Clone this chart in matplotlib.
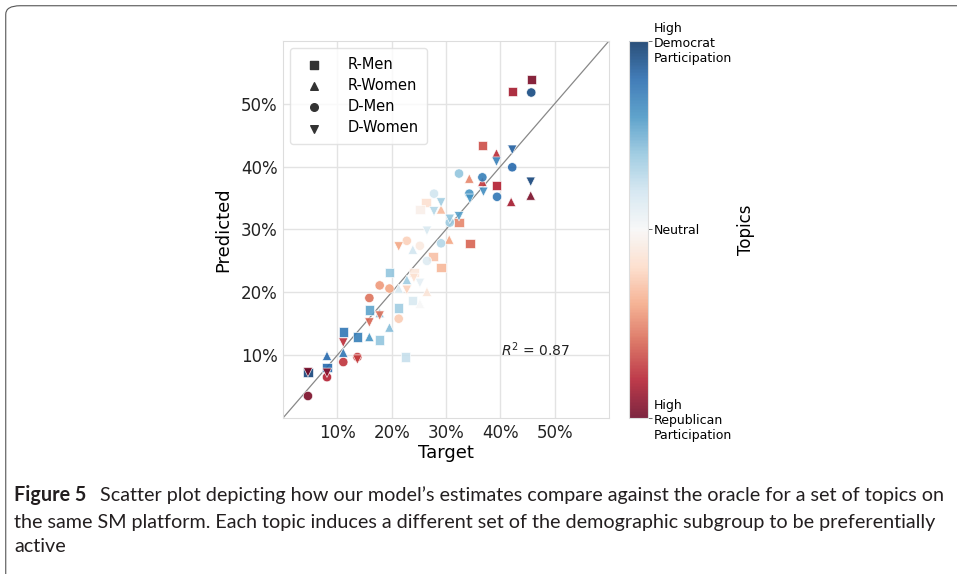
import matplotlib.pyplot as plt
import matplotlib as mpl
from matplotlib.patches import FancyBboxPatch
from matplotlib.ticker import PercentFormatter

# Target / predicted share and topic colour (0 = high Republican, 1 = high Democrat)
rmen_target = [0.457, 0.422, 0.367, 0.393, 0.344, 0.324, 0.291, 0.276, 0.263, 0.252, 0.241,
               0.239, 0.196, 0.213, 0.159, 0.178, 0.137, 0.111, 0.081, 0.046, 0.226]
rmen_pred = [0.539, 0.520, 0.434, 0.370, 0.278, 0.311, 0.239, 0.257, 0.343, 0.332, 0.231,
             0.187, 0.231, 0.175, 0.172, 0.124, 0.129, 0.137, 0.080, 0.072, 0.097]
rmen_topic = [0.02, 0.08, 0.17, 0.10, 0.20, 0.25, 0.33, 0.35, 0.42, 0.47, 0.44,
              0.58, 0.70, 0.68, 0.77, 0.70, 0.85, 0.87, 0.90, 0.97, 0.62]

rwomen_target = [0.456, 0.420, 0.393, 0.367, 0.343, 0.306, 0.291, 0.265, 0.252, 0.239,
                 0.228, 0.213, 0.196, 0.178, 0.159, 0.111, 0.081]
rwomen_pred = [0.354, 0.344, 0.421, 0.376, 0.381, 0.284, 0.332, 0.201, 0.182, 0.268,
               0.220, 0.206, 0.144, 0.167, 0.129, 0.104, 0.099]
rwomen_topic = [0.02, 0.08, 0.12, 0.14, 0.25, 0.30, 0.33, 0.43, 0.50, 0.60,
                0.68, 0.58, 0.72, 0.72, 0.80, 0.87, 0.90]

dmen_target = [0.457, 0.422, 0.394, 0.367, 0.343, 0.324, 0.307, 0.291, 0.278, 0.265,
               0.252, 0.228, 0.213, 0.196, 0.178, 0.159, 0.137, 0.111, 0.081, 0.046]
dmen_pred = [0.518, 0.399, 0.352, 0.383, 0.357, 0.389, 0.311, 0.278, 0.357, 0.250,
             0.274, 0.282, 0.158, 0.206, 0.211, 0.191, 0.097, 0.089, 0.065, 0.035]
dmen_topic = [0.96, 0.90, 0.87, 0.85, 0.80, 0.70, 0.68, 0.65, 0.60, 0.57,
              0.45, 0.38, 0.37, 0.30, 0.28, 0.22, 0.15, 0.13, 0.10, 0.02]

dwomen_target = [0.456, 0.422, 0.393, 0.369, 0.344, 0.324, 0.307, 0.291, 0.278, 0.265,
                 0.252, 0.241, 0.228, 0.213, 0.178, 0.159, 0.137, 0.111, 0.081, 0.046]
dwomen_pred = [0.376, 0.427, 0.408, 0.360, 0.349, 0.321, 0.317, 0.343, 0.329, 0.298,
               0.215, 0.223, 0.204, 0.273, 0.163, 0.152, 0.093, 0.120, 0.072, 0.073]
dwomen_topic = [0.97, 0.92, 0.85, 0.82, 0.80, 0.78, 0.70, 0.68, 0.65, 0.58,
                0.55, 0.42, 0.38, 0.30, 0.22, 0.20, 0.15, 0.12, 0.05, 0.02]

groups = [
    ("R-Men", "s", rmen_target, rmen_pred, rmen_topic),
    ("R-Women", "^", rwomen_target, rwomen_pred, rwomen_topic),
    ("D-Men", "o", dmen_target, dmen_pred, dmen_topic),
    ("D-Women", "v", dwomen_target, dwomen_pred, dwomen_topic),
]

fig = plt.figure(figsize=(9.57, 5.74), dpi=100)
ax = fig.add_axes([0.2957, 0.2718, 0.3406, 0.6568])
cax = fig.add_axes([0.6573, 0.2718, 0.0199, 0.6568])

cmap = plt.get_cmap("RdBu")
for name, marker, tx, py, topic in groups:
    ax.scatter(tx, py, c=topic, cmap=cmap, vmin=0, vmax=1, marker=marker, s=45,
               alpha=0.88, edgecolors="white", linewidths=0.5, zorder=3)
    ax.scatter([], [], color="#333333", marker=marker, s=30, label=name)

ax.axline((0, 0), slope=1, color="#888888", lw=0.9, zorder=2)
ax.set_xlim(0, 0.6)
ax.set_ylim(0, 0.6)
ticks = [0.1, 0.2, 0.3, 0.4, 0.5]
ax.set_xticks(ticks)
ax.set_yticks(ticks)
ax.xaxis.set_major_formatter(PercentFormatter(1, decimals=0))
ax.yaxis.set_major_formatter(PercentFormatter(1, decimals=0))
ax.tick_params(labelsize=12, length=0, pad=4, colors="#222222")
ax.grid(color="#e3e3e3", lw=1)
ax.set_axisbelow(True)
for sp in ax.spines.values():
    sp.set_color("#dddddd")
ax.set_xlabel("Target", fontsize=13, labelpad=2)
ax.set_ylabel("Predicted", fontsize=13, labelpad=6)
ax.text(0.402, 0.108, "$R^2$ = 0.87", fontsize=10, va="center", color="#222222")

leg = ax.legend(loc="upper left", fontsize=10.5, frameon=True, borderpad=0.6,
                labelspacing=0.42, handletextpad=1.3, markerscale=1.0)
leg.get_frame().set_edgecolor("#dddddd")

sm = mpl.cm.ScalarMappable(cmap=cmap, norm=mpl.colors.Normalize(0, 1))
cb = fig.colorbar(sm, cax=cax, alpha=0.85)
cb.set_ticks([0, 0.5, 1])
cb.set_ticklabels(["High\nRepublican\nParticipation", "Neutral",
                   "High\nDemocrat\nParticipation"])
cb.ax.tick_params(labelsize=9, length=3, width=0.6, color="#555555", pad=1)
cb.outline.set_edgecolor("#dddddd")
cb.set_label("Topics", fontsize=12, labelpad=4)

# caption box and text
fig.patches.append(FancyBboxPatch((0.006, -0.05), 1.05, 1.04, transform=fig.transFigure,
                                  boxstyle="round,pad=0,rounding_size=0.015",
                                  fc="none", ec="#555555", lw=0.8))
cap = dict(fontsize=14.2, family="Lato", color="#231f20")
fig.text(0.0146, 0.1272, "Figure 5", fontweight="bold", **cap)
fig.text(0.1045, 0.1272, "Scatter plot depicting how our model\u2019s estimates compare against "
         "the oracle for a set of topics on", **cap)
fig.text(0.0146, 0.0808, "the same SM platform. Each topic induces a different set of the "
         "demographic subgroup to be preferentially", **cap)
fig.text(0.0146, 0.0390, "active", **cap)

fig.savefig("out.png", dpi=100)
